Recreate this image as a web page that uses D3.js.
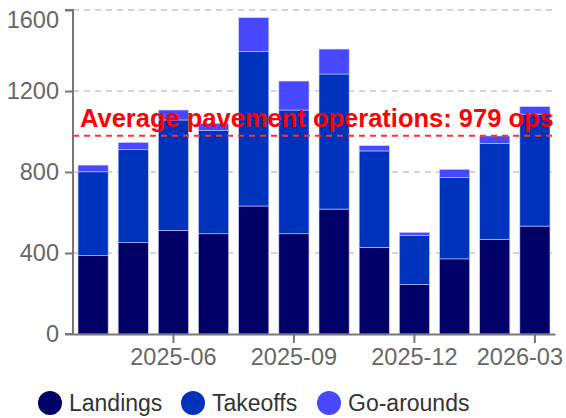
<!DOCTYPE html>
<html>
<head>
<meta charset="utf-8">
<script src="https://cdn.jsdelivr.net/npm/d3@7"></script>
<style>
  body { margin: 0; background: #fff; }
  svg { font-family: "Liberation Sans", Arial, sans-serif; }
</style>
</head>
<body>
<script>
let months = ["2025-04", "2025-05", "2025-06", "2025-07", "2025-08", "2025-09",
  "2025-10", "2025-11", "2025-12", "2026-01", "2026-02", "2026-03"];
let landings = [387, 451, 512, 495, 632, 495, 617, 428, 244, 371, 468, 533];
let takeoffs = [414, 459, 545, 509, 762, 611, 667, 476, 242, 401, 473, 553];
let goArounds = [33, 36, 49, 36, 168, 143, 123, 26, 16, 41, 37, 37];
let yTicks = [0, 400, 800, 1200, 1600];
let xTicks = ["2025-06", "2025-09", "2025-12", "2026-03"];

let seriesNames = ["Landings", "Takeoffs", "Go-arounds"];
let colors = ["#000066", "#0033bb", "#4848ff"];

let width = 566;
let height = 418;
let plotLeft = 73, plotRight = 555, plotTop = 10, plotBottom = 334;

let rows = months.map((m, i) => ({
  month: m,
  Landings: landings[i],
  Takeoffs: takeoffs[i],
  "Go-arounds": goArounds[i],
}));
let stacked = d3.stack().keys(seriesNames)(rows);

// pavement ops = landings + takeoffs
let avg = Math.round(d3.mean(months, (d, i) => landings[i] + takeoffs[i]));

let xScale = d3
  .scaleBand()
  .domain(months)
  .range([plotLeft, plotRight])
  .paddingInner(0.25)
  .paddingOuter(0.125);
let yScale = d3.scaleLinear().domain([0, 1600]).range([plotBottom, plotTop]);

let svg = d3
  .select("body")
  .append("svg")
  .attr("width", width)
  .attr("height", height);

// grid
svg
  .selectAll(".grid")
  .data(yTicks.slice(1))
  .enter()
  .append("line")
  .attr("x1", plotLeft)
  .attr("x2", plotRight)
  .attr("y1", (d) => yScale(d))
  .attr("y2", (d) => yScale(d))
  .attr("stroke", "#c8c8c8")
  .attr("stroke-width", 1.5)
  .attr("stroke-dasharray", "6,5");

// bars
svg
  .selectAll(".layer")
  .data(stacked)
  .enter()
  .append("g")
  .attr("fill", (d, i) => colors[i])
  .selectAll("rect")
  .data((d) => d)
  .enter()
  .append("rect")
  .attr("x", (d) => xScale(d.data.month))
  .attr("width", xScale.bandwidth())
  .attr("y", (d) => yScale(d[1]))
  .attr("height", (d) => yScale(d[0]) - yScale(d[1]))
  .attr("stroke", "#c8d0ff")
  .attr("stroke-width", 0.6);

// average line
svg
  .append("line")
  .attr("x1", plotLeft)
  .attr("x2", plotRight)
  .attr("y1", yScale(avg))
  .attr("y2", yScale(avg))
  .attr("stroke", "#ff3030")
  .attr("stroke-width", 2)
  .attr("stroke-dasharray", "6,5");
svg
  .append("text")
  .attr("x", plotLeft + 7)
  .attr("y", yScale(avg) - 9)
  .attr("fill", "#ff0000")
  .attr("font-size", "25.5px")
  .attr("font-weight", "bold")
  .text(`Average pavement operations: ${avg} ops`);

// axes
let yAxis = d3
  .axisLeft(yScale)
  .tickValues(yTicks)
  .tickFormat(d3.format("d"))
  .tickSize(8)
  .tickPadding(6);
let gy = svg.append("g").attr("transform", `translate(${plotLeft},0)`).call(yAxis);
let xAxis = d3
  .axisBottom(xScale)
  .tickValues(xTicks)
  .tickSize(9)
  .tickSizeOuter(0)
  .tickPadding(5);
let gx = svg.append("g").attr("transform", `translate(0,${plotBottom})`).call(xAxis);
[gx, gy].forEach((g) => {
  g.select(".domain").attr("stroke", "#777").attr("stroke-width", 2);
  g.selectAll(".tick line").attr("stroke", "#777").attr("stroke-width", 2);
  g.selectAll(".tick text")
    .attr("fill", "#666")
    .attr("font-size", "23.5px")
    .attr("font-family", "Liberation Sans, Arial, sans-serif");
});
gy.select(".domain").attr("d", `M-8,${plotTop}H0V${plotBottom}H-8`);

// keep the last x label inside the page
gx.selectAll(".tick text").each(function (d) {
  let cx = xScale(d) + xScale.bandwidth() / 2;
  let w = this.getComputedTextLength();
  if (cx + w / 2 > width - 3) {
    d3.select(this).attr("text-anchor", "end").attr("x", width - 3 - cx);
  }
});
// and the top y label below the page edge
gy.selectAll(".tick text").each(function (d) {
  let b = this.getBBox();
  let topEdge = yScale(d) + b.y;
  if (topEdge < 6) d3.select(this).attr("y", 6 - topEdge);
});

// legend
let legendX = [50, 193, 329];
let legend = svg
  .selectAll(".legend")
  .data(seriesNames)
  .enter()
  .append("g")
  .attr("transform", (d, i) => `translate(${legendX[i]},403)`);
legend
  .append("circle")
  .attr("r", 12)
  .attr("fill", (d, i) => colors[i]);
legend
  .append("text")
  .attr("x", 19)
  .attr("dy", "0.35em")
  .attr("fill", "#333")
  .attr("font-size", "23px")
  .text((d) => d);
</script>
</body>
</html>
